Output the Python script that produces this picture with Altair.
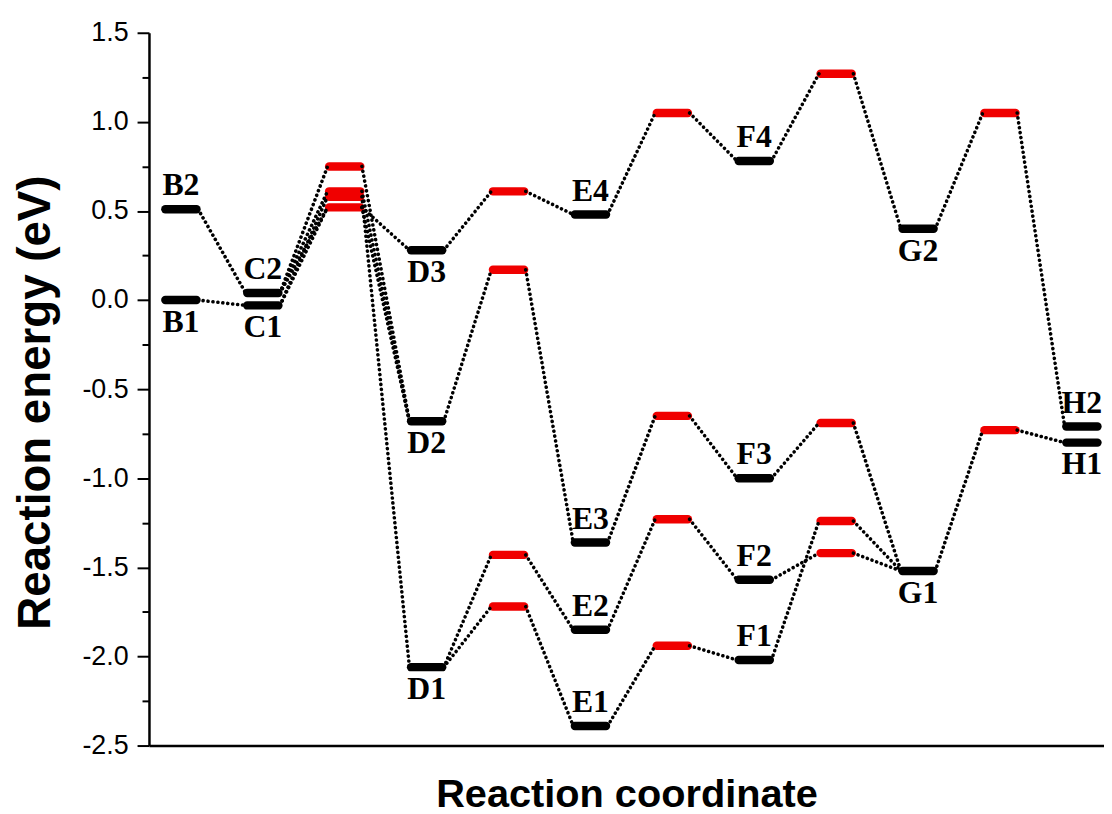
import altair as alt
import pandas as pd

# ---------------- data ----------------
level_names = ["B1", "B2", "C1", "C2",
               "TS1a", "TS1b", "TS1c", "TS1d",
               "D1", "D2", "D3",
               "TS2a", "TS2b", "TS2c", "TS2d",
               "E1", "E2", "E3", "E4",
               "TS3a", "TS3b", "TS3c", "TS3d",
               "F1", "F2", "F3", "F4",
               "TS4a", "TS4b", "TS4c", "TS4d",
               "G1", "G2",
               "TS5a", "TS5b",
               "H1", "H2"]
level_steps = [0, 0, 1, 1,
               2, 2, 2, 2,
               3, 3, 3,
               4, 4, 4, 4,
               5, 5, 5, 5,
               6, 6, 6, 6,
               7, 7, 7, 7,
               8, 8, 8, 8,
               9, 9,
               10, 10,
               11, 11]
level_energies = [0.00, 0.51, -0.03, 0.04,
                  0.75, 0.61, 0.58, 0.52,
                  -2.06, -0.68, 0.28,
                  0.61, 0.17, -1.43, -1.72,
                  -2.39, -1.85, -1.36, 0.48,
                  1.05, -0.65, -1.23, -1.94,
                  -2.02, -1.57, -1.00, 0.78,
                  1.27, -0.69, -1.24, -1.42,
                  -1.52, 0.40,
                  1.05, -0.73,
                  -0.80, -0.71]
level_kinds = ["state", "state", "state", "state",
               "ts", "ts", "ts", "ts",
               "state", "state", "state",
               "ts", "ts", "ts", "ts",
               "state", "state", "state", "state",
               "ts", "ts", "ts", "ts",
               "state", "state", "state", "state",
               "ts", "ts", "ts", "ts",
               "state", "state",
               "ts", "ts",
               "state", "state"]

conn_from = ["B1", "B2",
             "C2", "C2", "C1", "C1", "C2",
             "TS1a", "TS1b", "TS1c", "TS1d", "TS1d",
             "D3", "D2", "D1", "D1",
             "TS2a", "TS2b", "TS2c", "TS2d",
             "E4", "E3", "E2", "E1",
             "TS3a", "TS3b", "TS3c", "TS3d",
             "F4", "F3", "F2", "F1",
             "TS4a", "TS4b", "TS4c", "TS4d",
             "G2", "G1",
             "TS5a", "TS5b"]
conn_to = ["C1", "C2",
           "TS1a", "TS1b", "TS1c", "TS1d", "TS1d",
           "D2", "D2", "D1", "D3", "D2",
           "TS2a", "TS2b", "TS2c", "TS2d",
           "E4", "E3", "E2", "E1",
           "TS3a", "TS3b", "TS3c", "TS3d",
           "F4", "F3", "F2", "F1",
           "TS4a", "TS4b", "TS4d", "TS4c",
           "G2", "G1", "G1", "G1",
           "TS5a", "TS5b",
           "H2", "H1"]

labels_above = ["B2", "C2", "E1", "E2", "E3", "E4", "F1", "F2", "F3", "F4", "H2"]
labels_below = ["B1", "C1", "D1", "D2", "D3", "G1", "G2", "H1"]

y_ticks = [1.5, 1.25, 1.0, 0.75, 0.5, 0.25, 0.0, -0.25, -0.5, -0.75,
           -1.0, -1.25, -1.5, -1.75, -2.0, -2.25, -2.5]
x_domain = [-0.39, 11.27]
y_domain = [-2.5, 1.5]

# ---------------- tables ----------------
levels = pd.DataFrame({"name": level_names, "step": level_steps,
                       "energy": level_energies, "kind": level_kinds})
lut = levels.set_index("name")
conns = pd.DataFrame({
    "s1": [lut.loc[n, "step"] for n in conn_from],
    "e1": [lut.loc[n, "energy"] for n in conn_from],
    "s2": [lut.loc[n, "step"] for n in conn_to],
    "e2": [lut.loc[n, "energy"] for n in conn_to],
})
lab_up = levels[levels["name"].isin(labels_above)]
lab_dn = levels[levels["name"].isin(labels_below)]

xs = alt.Scale(domain=x_domain, nice=False, zero=False)
ys = alt.Scale(domain=y_domain, nice=False, zero=False)

minor_test = "abs(datum.value * 2 - round(datum.value * 2)) > 0.01"

x_axis = alt.Axis(labels=False, ticks=False, grid=False, domain=True,
                  domainWidth=2.5, domainColor="black",
                  title="Reaction coordinate", titleFont="Liberation Sans",
                  titleFontSize=40, titleFontWeight="bold",
                  titleBaseline="alphabetic", titleY=61)
y_axis = alt.Axis(values=y_ticks, grid=False, domain=True,
                  domainWidth=2.5, domainColor="black",
                  tickWidth=2,
                  tickSize={"condition": {"test": minor_test, "value": 7}, "value": 12},
                  labelExpr="(" + minor_test + ") ? '' : ((datum.value < 0 ? '-' : '') + format(abs(datum.value), '.1f'))",
                  labelFont="Liberation Sans", labelFontSize=27, labelPadding=9,
                  title="Reaction energy (eV)", titleFont="Liberation Sans",
                  titleFontSize=46, titleFontWeight="bold",
                  titleAngle=270, titleAlign="center", titleBaseline="alphabetic",
                  titleX=-100, titleY=372)

bars = alt.Chart(levels).transform_calculate(
    xl="datum.step - 0.19", xr="datum.step + 0.19"
).mark_rule(strokeWidth=8.5, strokeCap="round").encode(
    x=alt.X("xl:Q", scale=xs, axis=x_axis),
    x2="xr:Q",
    y=alt.Y("energy:Q", scale=ys, axis=y_axis),
    color=alt.Color("kind:N", scale=alt.Scale(domain=["state", "ts"],
                                              range=["#000000", "#f00000"]),
                    legend=None),
)

links = alt.Chart(conns).transform_calculate(
    xa="datum.s1 + 0.21", xb="datum.s2 - 0.21"
).mark_rule(strokeWidth=3.6, strokeCap="round", strokeDash=[0.1, 4.9],
            color="black").encode(
    x=alt.X("xa:Q", scale=xs, axis=x_axis),
    x2="xb:Q",
    y=alt.Y("e1:Q", scale=ys, axis=y_axis),
    y2="e2:Q",
)

txt_style = dict(font="Liberation Serif", fontWeight="bold", fontSize=32,
                 color="black", baseline="middle", align="center")
t_up = alt.Chart(lab_up).mark_text(dy=-24, **txt_style).encode(
    x=alt.X("step:Q", scale=xs, axis=x_axis),
    y=alt.Y("energy:Q", scale=ys, axis=y_axis),
    text="name:N",
)
t_dn = alt.Chart(lab_dn).mark_text(dy=22, **txt_style).encode(
    x=alt.X("step:Q", scale=xs, axis=x_axis),
    y=alt.Y("energy:Q", scale=ys, axis=y_axis),
    text="name:N",
)

chart = alt.layer(bars, links, t_up, t_dn).properties(
    width=962, height=718,
    autosize=alt.AutoSizeParams(type="none"),
    padding={"left": 142, "top": 22, "right": 0, "bottom": 66},
).configure_view(stroke=None).configure_axis(
    domainColor="black", tickColor="black", labelColor="black", titleColor="black"
)

chart.save("out.html", embed_options={"renderer": "svg", "actions": False})
